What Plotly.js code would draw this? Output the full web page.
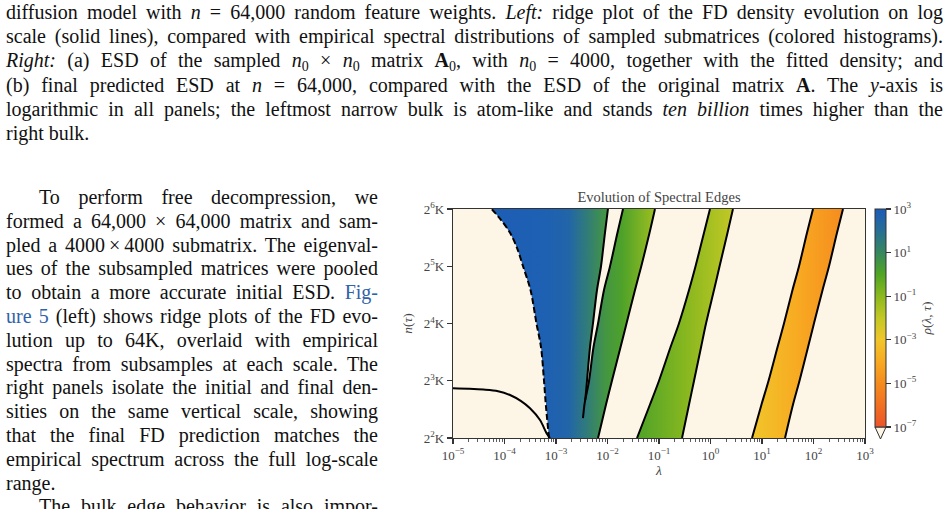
<!DOCTYPE html>
<html>
<head>
<meta charset="utf-8">
<script src="https://cdn.plot.ly/plotly-3.0.1.min.js"></script>
<style>
  html, body { margin: 0; padding: 0; background: #fff; }
  body { width: 951px; height: 509px; overflow: hidden; position: relative;
         font-family: "Liberation Serif", "DejaVu Serif", serif; color: #111; }
  .txt { position: absolute; font-size: 20px; line-height: 24.2px; }
  .ln { white-space: nowrap; height: 24.2px; }
  #body, #body .ln { line-height: 23.8px; height: auto; }
  #body .ln { height: 23.8px; }
  .ln > span { display: inline-block; }
  .ind { padding-left: 33px; }
  sub { font-size: 0.7em; vertical-align: -0.25em; line-height: 0; }
  .lnk { color: #2f62a8; }
  #chart { position: absolute; left: 0; top: 0; width: 951px; height: 509px; }
</style>
</head>
<body>

<div class="txt" id="caption" style="left:6px; top:0px; width:937px;">
  <div class="ln j"><span>diffusion model with <i>n</i> = 64,000 random feature weights. <i>Left:</i> ridge plot of the FD density evolution on log</span></div>
  <div class="ln j"><span>scale (solid lines), compared with empirical spectral distributions of sampled submatrices (colored histograms).</span></div>
  <div class="ln j"><span><i>Right:</i> (a) ESD of the sampled <i>n</i><sub>0</sub> × <i>n</i><sub>0</sub> matrix <b>A</b><sub>0</sub>, with <i>n</i><sub>0</sub> = 4000, together with the fitted density; and</span></div>
  <div class="ln j"><span>(b) final predicted ESD at <i>n</i> = 64,000, compared with the ESD of the original matrix <b>A</b>. The <i>y</i>-axis is</span></div>
  <div class="ln j"><span>logarithmic in all panels; the leftmost narrow bulk is atom-like and stands <i>ten billion</i> times higher than the</span></div>
  <div class="ln"><span>right bulk.</span></div>
</div>

<div class="txt" id="body" style="left:6px; top:186px; width:372px;">
  <div class="ln j ind"><span>To perform free decompression, we</span></div>
  <div class="ln j"><span>formed a 64,000 × 64,000 matrix and sam-</span></div>
  <div class="ln j"><span>pled a 4000&#8201;×&#8201;4000 submatrix. The eigenval-</span></div>
  <div class="ln j"><span>ues of the subsampled matrices were pooled</span></div>
  <div class="ln j"><span>to obtain a more accurate initial ESD. <span class="lnk">Fig-</span></span></div>
  <div class="ln j"><span><span class="lnk">ure 5</span> (left) shows ridge plots of the FD evo-</span></div>
  <div class="ln j"><span>lution up to 64K, overlaid with empirical</span></div>
  <div class="ln j"><span>spectra from subsamples at each scale. The</span></div>
  <div class="ln j"><span>right panels isolate the initial and final den-</span></div>
  <div class="ln j"><span>sities on the same vertical scale, showing</span></div>
  <div class="ln j"><span>that the final FD prediction matches the</span></div>
  <div class="ln j"><span>empirical spectrum across the full log-scale</span></div>
  <div class="ln"><span>range.</span></div>
  <div class="ln j ind"><span>The bulk edge behavior is also impor-</span></div>
</div>

<div id="chart"></div>

<script>
// ---------- justified text lines ----------
function justifyLines() {
  document.querySelectorAll('.ln.j').forEach(function (div) {
    var span = div.firstElementChild;
    span.style.wordSpacing = '0px';
    var target = div.clientWidth - parseFloat(getComputedStyle(div).paddingLeft);
    var w = span.getBoundingClientRect().width;
    var k = (span.textContent.match(/ /g) || []).length;
    if (k) span.style.wordSpacing = ((target - w) / k) + 'px';
  });
}
justifyLines();
if (document.fonts && document.fonts.ready) document.fonts.ready.then(justifyLines);

// ---------- data ----------
// n(τ) levels, in thousands
const nLevels = [4, 6, 8, 12, 16, 24, 32, 48, 64];

// left edge of the atom-like bulk (dashed)
const atomLeftN   = [4, 6, 8, 12, 16, 24, 32, 40, 48, 56, 64];
const atomLeftLam = [7.31e-4, 6.34e-4, 5.85e-4, 5.12e-4, 4.18e-4, 3.20e-4, 2.29e-4, 1.75e-4, 1.28e-4, 8.6e-5, 5.63e-5];

// lower-left solid edge curve
const lowEdgeN   = [7.30, 7.26, 7.19, 7.05, 6.73, 6.25, 5.73, 4.97, 4.23, 4.0];
const lowEdgeLam = [1e-5, 2.0e-5, 3.9e-5, 7.5e-5, 1.28e-4, 2.1e-4, 3.13e-4, 4.89e-4, 6.59e-4, 7.64e-4];

// right edge of the atom-like bulk
const atomRightN   = [5.09, 6, 6.34, 8, 12, 16, 24, 32, 48, 64];
const atomRightLam = [3.34e-3, 3.57e-3, 3.69e-3, 4.00e-3, 4.57e-3, 5.22e-3, 6.25e-3, 7.48e-3, 8.93e-3, 1.02e-2];

// second bulk: left and right edges
const bulk2LeftN   = [6.34, 8, 12, 16, 24, 32, 48, 64];
const bulk2LeftLam = [3.69e-3, 4.38e-3, 5.34e-3, 6.55e-3, 8.55e-3, 1.12e-2, 1.56e-2, 2.00e-2];
const bulk2RightLam = [6.55e-3, 9.35e-3, 1.22e-2, 1.79e-2, 2.34e-2, 3.42e-2, 4.53e-2, 6.55e-2, 8.35e-2];

// third bulk
const bulk3LeftLam  = [0.0374, 0.0668, 0.100, 0.167, 0.244, 0.383, 0.512, 0.748, 0.977];
const bulk3RightLam = [0.280, 0.383, 0.479, 0.655, 0.818, 1.17, 1.50, 2.14, 2.73];

// fourth (right) bulk
const bulk4LeftLam  = [6.40, 9.78, 13.4, 20.0, 26.7, 39.1, 52.3, 74.8, 97.8];
const bulk4RightLam = [28.0, 40.0, 53.5, 78.2, 102, 150, 200, 286, 374];

// log10 density across each bulk (fraction of bulk width -> log10 ρ)
const densAtomBulk2 = [[0, 2.9], [0.33, 2.8], [0.47, 2.5], [0.58, 1.5], [0.70, 0.5], [0.80, 0.1], [1, -1.3]];
const densBulk3     = [[0, 0.1], [0.5, -0.9], [1, -2.0]];
const densBulk4     = [[0, -3.0], [0.5, -4.0], [1, -5.0]];

// ticks
const lamTickVals = [1e-5, 1e-4, 1e-3, 1e-2, 1e-1, 1e0, 1e1, 1e2, 1e3];
const lamTickText = ['10<sup>−5</sup>', '10<sup>−4</sup>', '10<sup>−3</sup>', '10<sup>−2</sup>', '10<sup>−1</sup>',
                     '10<sup>0</sup>', '10<sup>1</sup>', '10<sup>2</sup>', '10<sup>3</sup>'];
const nTickVals = [4, 8, 16, 32, 64];
const nTickText = ['2<sup>2</sup>K', '2<sup>3</sup>K', '2<sup>4</sup>K', '2<sup>5</sup>K', '2<sup>6</sup>K'];
const rhoTickVals = [-7, -5, -3, -1, 1, 3];
const rhoTickText = ['10<sup>−7</sup>', '10<sup>−5</sup>', '10<sup>−3</sup>', '10<sup>−1</sup>', '10<sup>1</sup>', '10<sup>3</sup>'];

// colour map for log10 ρ
const cmapLevels = [-7, -6, -5, -4, -3, -2, -1, 0, 1, 2, 3];
const cmapColors = ['#ec5428', '#f27022', '#f58c1e', '#f8aa22', '#f0c62a', '#c3c824',
                    '#8cb91e', '#50a523', '#37875f', '#286e96', '#1c5cb9'];

// ---------- helpers ----------
const BG = '#fdf5e6';
const INK = '#333';
const TXT = '#444';
const FONT = '"Liberation Serif", "DejaVu Serif", serif';

function hexToRgb(h) { return [parseInt(h.substr(1, 2), 16), parseInt(h.substr(3, 2), 16), parseInt(h.substr(5, 2), 16)]; }
function rhoColor(v) {
  const lo = cmapLevels[0], hi = cmapLevels[cmapLevels.length - 1];
  v = Math.max(lo, Math.min(hi, v));
  let i = 0;
  while (i < cmapLevels.length - 2 && v > cmapLevels[i + 1]) i++;
  const t = (v - cmapLevels[i]) / (cmapLevels[i + 1] - cmapLevels[i]);
  const a = hexToRgb(cmapColors[i]), b = hexToRgb(cmapColors[i + 1]);
  const c = a.map((x, k) => Math.round(x + (b[k] - x) * t));
  return 'rgb(' + c.join(',') + ')';
}
function densityScale(stops) { return stops.map(s => [s[0], rhoColor(s[1])]); }
const cbScale = cmapLevels.map((v, i) => [(v - cmapLevels[0]) / (cmapLevels[cmapLevels.length - 1] - cmapLevels[0]), cmapColors[i]]);

function band(leftLam, leftN, rightLam, rightN, fillSpec) {
  const t = {
    type: 'scatter', mode: 'lines', line: { width: 0 }, fill: 'toself', hoverinfo: 'skip',
    x: leftLam.concat(rightLam.slice().reverse()),
    y: leftN.concat(rightN.slice().reverse())
  };
  return Object.assign(t, fillSpec);
}
function edge(lam, n, dash) {
  return { type: 'scatter', mode: 'lines', x: lam, y: n, hoverinfo: 'skip',
           line: { color: '#000', width: 2, dash: dash || 'solid', shape: 'spline', smoothing: 0.9 } };
}

// gap between the atom-like bulk and the second bulk (where both edges exist)
const gapStart = atomRightN.indexOf(bulk2LeftN[0]);
const gapRightN = atomRightN.slice(gapStart), gapRightLam = atomRightLam.slice(gapStart);

const traces = [
  band(atomLeftLam, atomLeftN, bulk2RightLam, nLevels,
       { fillgradient: { type: 'horizontal', colorscale: densityScale(densAtomBulk2) } }),
  band(gapRightLam, gapRightN, bulk2LeftLam, bulk2LeftN, { fillcolor: BG }),
  band(bulk3LeftLam, nLevels, bulk3RightLam, nLevels,
       { fillgradient: { type: 'horizontal', colorscale: densityScale(densBulk3) } }),
  band(bulk4LeftLam, nLevels, bulk4RightLam, nLevels,
       { fillgradient: { type: 'horizontal', colorscale: densityScale(densBulk4) } }),
  edge(atomLeftLam, atomLeftN, '6px,3px'),
  edge(lowEdgeLam, lowEdgeN),
  edge(atomRightLam, atomRightN),
  edge(bulk2LeftLam, bulk2LeftN),
  edge(bulk2RightLam, nLevels),
  edge(bulk3LeftLam, nLevels),
  edge(bulk3RightLam, nLevels),
  edge(bulk4LeftLam, nLevels),
  edge(bulk4RightLam, nLevels)
];

// colour bar for ρ(λ, τ)
const cbLeftPx = 875, cbThick = 11, plotL = 453, plotR = 865, plotT = 209, plotB = 438;
const pw = plotR - plotL, ph = plotB - plotT;
const cbLen = (427 - plotT) / ph;
traces.push({
  type: 'scatter', mode: 'markers', x: [atomLeftLam[0]], y: [atomLeftN[0]], hoverinfo: 'skip',
  marker: {
    size: 1, opacity: 0, color: [densAtomBulk2[0][1]], cmin: cmapLevels[0], cmax: cmapLevels[cmapLevels.length - 1],
    colorscale: cbScale, showscale: true,
    colorbar: {
      x: (cbLeftPx - plotL) / pw, xanchor: 'left', y: 1, yanchor: 'top',
      len: cbLen, lenmode: 'fraction', thickness: cbThick, thicknessmode: 'pixels',
      xpad: 0, ypad: 0, outlinewidth: 1, outlinecolor: INK,
      ticks: 'outside', ticklen: 5, tickwidth: 1.2, tickcolor: INK,
      tickvals: rhoTickVals, ticktext: rhoTickText,
      tickfont: { family: FONT, size: 13, color: TXT },
      title: { text: '<i>ρ</i>(<i>λ</i>, <i>τ</i>)', side: 'right', font: { family: FONT, size: 13.5, color: TXT } }
    }
  }
});

// minor ticks for the log λ axis
const lamMinor = [];
for (let d = -5; d < 3; d++) for (let m = 2; m <= 9; m++) lamMinor.push(m * Math.pow(10, d));

// "under" extension below the colour bar
const cbX0 = (cbLeftPx - plotL) / pw, cbX1 = (cbLeftPx + cbThick - plotL) / pw;
const cbYb = 1 - cbLen, tipY = cbYb - 12 / ph;
const extPath = 'M' + cbX0 + ',' + cbYb + ' L' + cbX1 + ',' + cbYb + ' L' + ((cbX0 + cbX1) / 2) + ',' + tipY + ' Z';

const layout = {
  width: 951, height: 509,
  margin: { l: plotL, r: 951 - plotR, t: plotT, b: 509 - plotB, pad: 0 },
  paper_bgcolor: 'rgba(0,0,0,0)',
  plot_bgcolor: BG,
  showlegend: false,
  font: { family: FONT, size: 13, color: TXT },
  title: { text: 'Evolution of Spectral Edges', x: 0.5, xref: 'paper', xanchor: 'center',
           y: 1 - 197 / 509, yref: 'container', yanchor: 'middle', font: { family: FONT, size: 14.5, color: TXT } },
  xaxis: {
    type: 'log', range: [-5, 3], tickvals: lamTickVals, ticktext: lamTickText,
    ticks: 'outside', ticklen: 5, tickwidth: 1.2, tickcolor: INK,
    showline: true, linecolor: INK, linewidth: 1.3, mirror: true, showgrid: false, zeroline: false,
    minor: { tickvals: lamMinor, ticks: 'outside', ticklen: 3, tickwidth: 0.8, tickcolor: INK, showgrid: false },
    tickfont: { family: FONT, size: 13, color: TXT },
    title: { text: '<i>λ</i>', standoff: 2, font: { family: FONT, size: 13.5, color: TXT } }
  },
  yaxis: {
    type: 'log', range: [Math.log10(nTickVals[0]), Math.log10(nTickVals[nTickVals.length - 1])],
    tickvals: nTickVals, ticktext: nTickText,
    ticks: 'outside', ticklen: 5, tickwidth: 1.2, tickcolor: INK,
    showline: true, linecolor: INK, linewidth: 1.3, mirror: true, showgrid: false, zeroline: false,
    tickfont: { family: FONT, size: 13, color: TXT },
    title: { text: '<i>n</i>(<i>τ</i>)', standoff: 8, font: { family: FONT, size: 13.5, color: TXT } }
  },
  shapes: [{
    type: 'path', xref: 'paper', yref: 'paper', path: extPath,
    fillcolor: BG, line: { color: INK, width: 1 }, layer: 'above'
  }]
};

Plotly.newPlot('chart', traces, layout, { displayModeBar: false, staticPlot: true });
</script>
</body>
</html>
